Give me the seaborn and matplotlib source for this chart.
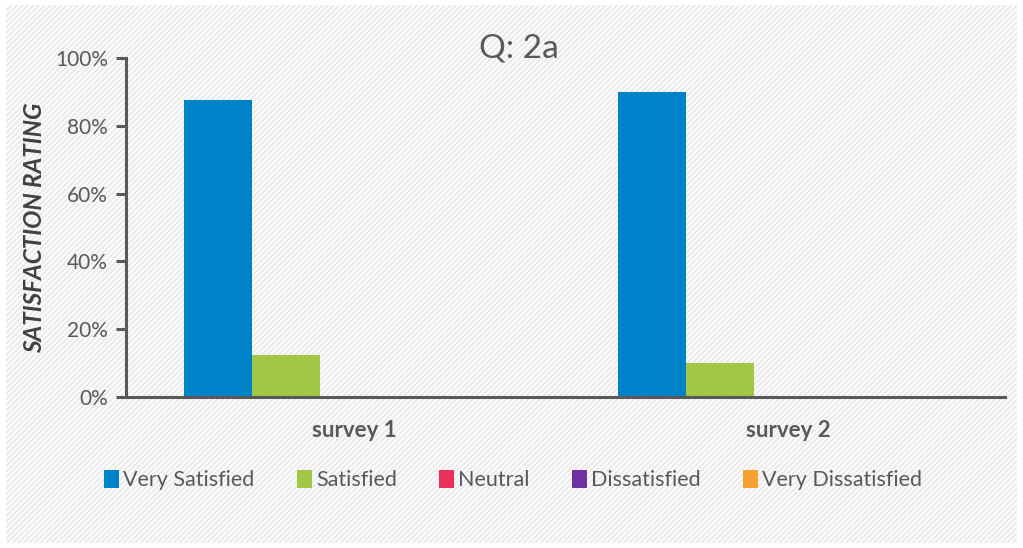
import matplotlib
matplotlib.use("Agg")
import matplotlib.pyplot as plt
from matplotlib.patches import Rectangle
from matplotlib.ticker import PercentFormatter
import seaborn as sns
import pandas as pd

surveys = ["survey 1", "survey 2"]
ratings = ["Very Satisfied", "Satisfied", "Neutral", "Dissatisfied", "Very Dissatisfied"]
very_satisfied = [87.5, 90.0]
satisfied = [12.5, 10.0]
neutral = [0.0, 0.0]
dissatisfied = [0.0, 0.0]
very_dissatisfied = [0.0, 0.0]
colors = ["#0082C8", "#A0C846", "#E8305A", "#7030A0", "#F8A030"]

series = [very_satisfied, satisfied, neutral, dissatisfied, very_dissatisfied]
rows = []
for r, vals in zip(ratings, series):
    for s, v in zip(surveys, vals):
        rows.append({"survey": s, "rating": r, "value": v})
df = pd.DataFrame(rows)

sns.set_style("white")
plt.rcParams["font.family"] = ["Lato", "DejaVu Sans"]
plt.rcParams["hatch.linewidth"] = 1.6

fig = plt.figure(figsize=(10.23, 5.48), dpi=100)
bg = Rectangle((0.006, 0.01), 0.988, 0.98, transform=fig.transFigure,
               facecolor="white", edgecolor="#ebebeb", hatch="//////",
               linewidth=0, zorder=-10)
fig.patches.append(bg)

ax = fig.add_axes([126/1023, 1-397/548, (1005-126)/1023, (397-58)/548])
ax.patch.set_alpha(0)

sns.barplot(data=df, x="survey", y="value", hue="rating", order=surveys,
            hue_order=ratings, palette=colors, width=0.785, ax=ax,
            saturation=1, edgecolor="none", linewidth=0)

ax.set_xlim(-0.525, 1.5)
ax.set_ylim(0, 100)
ax.set_yticks([0, 20, 40, 60, 80, 100])
ax.yaxis.set_major_formatter(PercentFormatter(decimals=0))
for s in ["top", "right"]:
    ax.spines[s].set_visible(False)
for s in ["left", "bottom"]:
    ax.spines[s].set_color("#595959")
    ax.spines[s].set_linewidth(2.2)
ax.tick_params(axis="y", which="both", left=True, length=7, width=2.2,
               color="#595959", labelsize=15, labelcolor="#595959", pad=6)
ax.tick_params(axis="x", bottom=False, labelsize=16, labelcolor="#595959", pad=13)
for lbl in ax.get_xticklabels():
    lbl.set_fontweight("bold")
ax.set_xlabel("")
ax.set_ylabel("")

fig.text(35/1023, 1-228/548, "SATISFACTION RATING", rotation=90, ha="center",
         va="center", fontsize=17.5, fontweight="bold", fontstyle="italic",
         color="#404040")
fig.text(519/1023, 1-48/548, "Q: 2a", ha="center", va="center",
         fontsize=24, color="#595959")

handles, labels = ax.get_legend_handles_labels()
ax.get_legend().remove()
fig.legend(handles, labels, loc="center", bbox_to_anchor=(513/1023, 1-480/548),
           ncol=5, frameon=False, fontsize=15.5, handlelength=0.7,
           handleheight=0.9, handletextpad=0.2, columnspacing=1.95,
           labelcolor="#595959")

fig.savefig("out.png", dpi=100)
